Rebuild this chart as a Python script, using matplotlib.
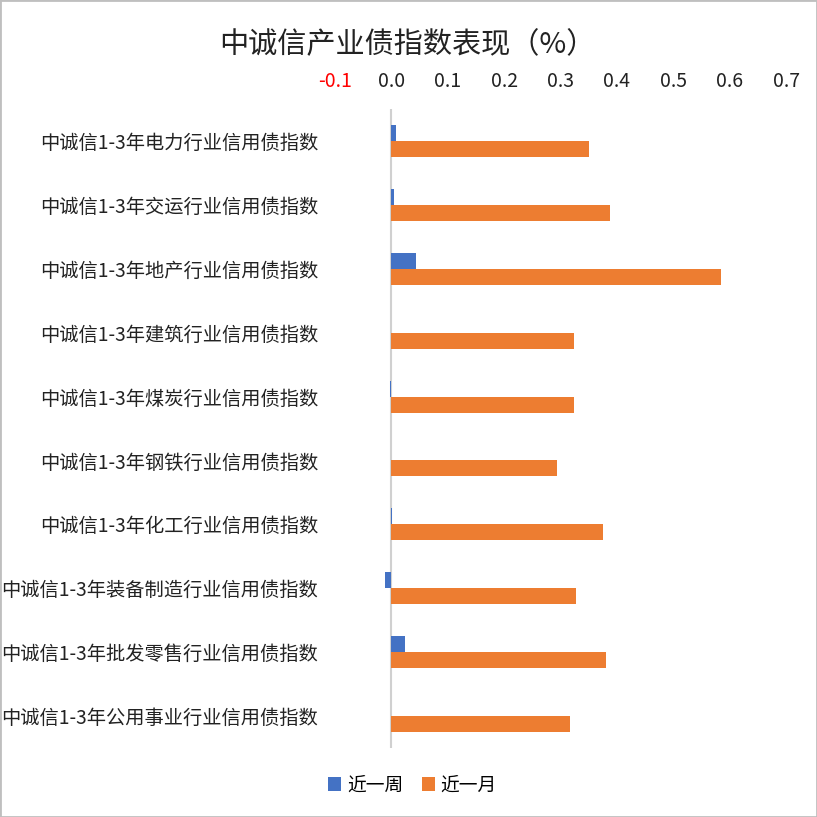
import matplotlib
matplotlib.use("Agg")
import matplotlib.pyplot as plt
from matplotlib.patches import Rectangle
import numpy as np

plt.rcParams['font.family'] = ['Noto Sans CJK SC', 'DejaVu Sans']

categories = [
    "中诚信1-3年电力行业信用债指数",
    "中诚信1-3年交运行业信用债指数",
    "中诚信1-3年地产行业信用债指数",
    "中诚信1-3年建筑行业信用债指数",
    "中诚信1-3年煤炭行业信用债指数",
    "中诚信1-3年钢铁行业信用债指数",
    "中诚信1-3年化工行业信用债指数",
    "中诚信1-3年装备制造行业信用债指数",
    "中诚信1-3年批发零售行业信用债指数",
    "中诚信1-3年公用事业行业信用债指数",
]
week = [0.009, 0.005, 0.043, 0.0, -0.003, 0.0, 0.001, -0.012, 0.025, 0.0]
month = [0.350, 0.387, 0.585, 0.324, 0.324, 0.294, 0.376, 0.328, 0.381, 0.316]
xticks = [-0.1, 0.0, 0.1, 0.2, 0.3, 0.4, 0.5, 0.6, 0.7]
xticklabels = ["-0.1", "0.0", "0.1", "0.2", "0.3", "0.4", "0.5", "0.6", "0.7"]

blue = "#4472C4"
orange = "#ED7D31"

fig = plt.figure(figsize=(8.17, 8.17), dpi=100)
ax = fig.add_axes([335 / 817, 1 - 748 / 817, (786 - 335) / 817, (748 - 109) / 817])

y = np.arange(len(categories))
h = 0.25
ax.barh(y - h / 2, week, height=h, color=blue, label="近一周")
ax.barh(y + h / 2, month, height=h, color=orange, label="近一月")

ax.set_xlim(-0.1, 0.7)
ax.set_ylim(len(categories) - 0.5, -0.5)
ax.set_yticks(y)
ax.set_yticklabels(categories, fontsize=13.85, color="#222222")
ax.set_xticks(xticks)
ax.set_xticklabels(xticklabels, fontsize=14, color="#222222")
ax.xaxis.tick_top()
for t, txt in zip(ax.xaxis.get_major_ticks(), xticklabels):
    if txt.startswith("-"):
        t.label2.set_color("red")
        t.label1.set_color("red")
ax.tick_params(axis='both', length=0)
ax.tick_params(axis='x', pad=12)
ax.tick_params(axis='y', pad=12)
for s in ax.spines.values():
    s.set_visible(False)
ax.axvline(0, color="#D0D0D0", lw=1.5, zorder=0)

fig.text(0.499, 1 - 45 / 817, "中诚信产业债指数表现（%）", ha="center", va="center",
         fontsize=21, color="#222222")

leg = fig.legend(loc="center", bbox_to_anchor=(0.505, 1 - 785 / 817), ncol=2,
                 frameon=False, fontsize=13.5, handlelength=0.7, handleheight=0.7,
                 handletextpad=0.3, columnspacing=1.0)

fig.patches.append(Rectangle((0, 0), 1, 1, transform=fig.transFigure, fill=False,
                             edgecolor="#BFBFBF", lw=2))

fig.savefig("out.png", dpi=100)
